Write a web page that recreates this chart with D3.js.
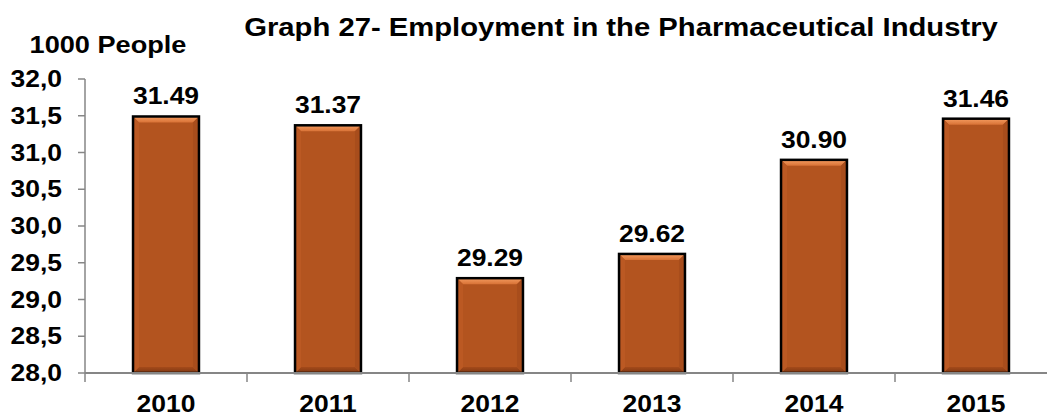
<!DOCTYPE html>
<html>
<head>
<meta charset="utf-8">
<script src="https://cdn.jsdelivr.net/npm/d3@7"></script>
<style>
  body { margin: 0; background: #fff; }
  svg text { font-family: "Liberation Sans", Arial, sans-serif; font-weight: bold; fill: #000; }
</style>
</head>
<body>
<div id="chart"></div>
<script>
// data
var years = ["2010", "2011", "2012", "2013", "2014", "2015"];
var employment = [31.49, 31.37, 29.29, 29.62, 30.90, 31.46];
var yTicks = [28.0, 28.5, 29.0, 29.5, 30.0, 30.5, 31.0, 31.5, 32.0];
var titleText = "Graph 27- Employment in the Pharmaceutical Industry";
var unitText = "1000 People";

var W = 1047, H = 416;
var plotLeft = 85, plotRight = 1057, plotTop = 79, plotBottom = 373;
var sx = 1.15; // the original text is a bit wide

var svg = d3.select("#chart").append("svg")
  .attr("width", W).attr("height", H);

var defs = svg.append("defs");
var gTop = defs.append("linearGradient").attr("id", "bevTop")
  .attr("x1", 0).attr("y1", 0).attr("x2", 0).attr("y2", 1);
gTop.append("stop").attr("offset", 0).attr("stop-color", "#f59c60");
gTop.append("stop").attr("offset", 1).attr("stop-color", "#d87236");
var gBot = defs.append("linearGradient").attr("id", "bevBot")
  .attr("x1", 0).attr("y1", 0).attr("x2", 0).attr("y2", 1);
gBot.append("stop").attr("offset", 0).attr("stop-color", "#a44a1a");
gBot.append("stop").attr("offset", 1).attr("stop-color", "#7e3712");

var x = d3.scaleBand().domain(years).range([plotLeft, plotRight])
  .paddingInner(0.593).paddingOuter(0.2965);
var y = d3.scaleLinear().domain([28, 32]).range([plotBottom, plotTop]);

function stretched(sel, px, py, s) {
  return sel.attr("transform", "translate(" + px + "," + py + ") scale(" + (s || sx) + ",1)");
}

// title and unit
stretched(svg.append("text").text(titleText)
  .attr("text-anchor", "middle").style("font-size", "25px"), 621, 36, 1.17);
stretched(svg.append("text").text(unitText)
  .attr("text-anchor", "middle").style("font-size", "23px"), 108, 53, 1.18);

// bars
var bw = x.bandwidth(), bev = 6;
var bars = svg.append("g").selectAll("g").data(years).join("g");
bars.append("rect")
  .attr("x", function(d) { return x(d); })
  .attr("y", function(d, i) { return y(employment[i]); })
  .attr("width", bw)
  .attr("height", function(d, i) { return y(28) - y(employment[i]); })
  .attr("fill", "#b3541f");
bars.append("polygon")
  .attr("points", function(d, i) {
    var x0 = x(d), x1 = x0 + bw, y0 = y(employment[i]);
    return [[x0, y0], [x1, y0], [x1 - bev, y0 + bev], [x0 + bev, y0 + bev]].join(" ");
  })
  .attr("fill", "url(#bevTop)");
bars.append("polygon")
  .attr("points", function(d) {
    var x0 = x(d), x1 = x0 + bw, y1 = y(28);
    return [[x0, y1], [x1, y1], [x1 - bev, y1 - bev], [x0 + bev, y1 - bev]].join(" ");
  })
  .attr("fill", "url(#bevBot)");
bars.append("polygon")
  .attr("points", function(d, i) {
    var x0 = x(d), y0 = y(employment[i]), y1 = y(28);
    return [[x0, y0], [x0 + bev, y0 + bev], [x0 + bev, y1 - bev], [x0, y1]].join(" ");
  })
  .attr("fill", "#bb5923");
bars.append("polygon")
  .attr("points", function(d, i) {
    var x1 = x(d) + bw, y0 = y(employment[i]), y1 = y(28);
    return [[x1, y0], [x1 - bev, y0 + bev], [x1 - bev, y1 - bev], [x1, y1]].join(" ");
  })
  .attr("fill", "#a84d1c");
bars.append("rect")
  .attr("x", function(d) { return x(d); })
  .attr("y", function(d, i) { return y(employment[i]); })
  .attr("width", bw)
  .attr("height", function(d, i) { return y(28) - y(employment[i]); })
  .attr("fill", "none").attr("stroke", "#000").attr("stroke-width", 2.5);

// value labels
bars.append("text")
  .text(function(d, i) { return employment[i].toFixed(2); })
  .attr("text-anchor", "middle").style("font-size", "23px")
  .each(function(d, i) {
    stretched(d3.select(this), x(d) + bw / 2, y(employment[i]) - 12);
  });

// y axis
var axisColor = "#868686";
svg.append("line").attr("x1", plotLeft).attr("x2", plotLeft)
  .attr("y1", plotTop).attr("y2", plotBottom + 9)
  .attr("stroke", axisColor).attr("stroke-width", 1.5);
svg.append("g").selectAll("line").data(yTicks).join("line")
  .attr("x1", plotLeft - 7).attr("x2", plotLeft)
  .attr("y1", function(d) { return y(d); }).attr("y2", function(d) { return y(d); })
  .attr("stroke", axisColor).attr("stroke-width", 1.5);
svg.append("g").selectAll("text").data(yTicks).join("text")
  .text(function(d) { return d.toFixed(1).replace(".", ","); })
  .attr("text-anchor", "end").style("font-size", "23px")
  .each(function(d) { stretched(d3.select(this), 62, y(d) + 8); });

// x axis
svg.append("line").attr("x1", plotLeft).attr("x2", plotRight)
  .attr("y1", plotBottom).attr("y2", plotBottom)
  .attr("stroke", axisColor).attr("stroke-width", 2);
var step = x.step();
svg.append("g").selectAll("line").data(years).join("line")
  .attr("x1", function(d, i) { return plotLeft + step * (i + 1); })
  .attr("x2", function(d, i) { return plotLeft + step * (i + 1); })
  .attr("y1", plotBottom).attr("y2", plotBottom + 9)
  .attr("stroke", axisColor).attr("stroke-width", 1.5);
svg.append("g").selectAll("text").data(years).join("text")
  .text(function(d) { return d; })
  .attr("text-anchor", "middle").style("font-size", "23px")
  .each(function(d) { stretched(d3.select(this), x(d) + bw / 2, 412); });
</script>
</body>
</html>
